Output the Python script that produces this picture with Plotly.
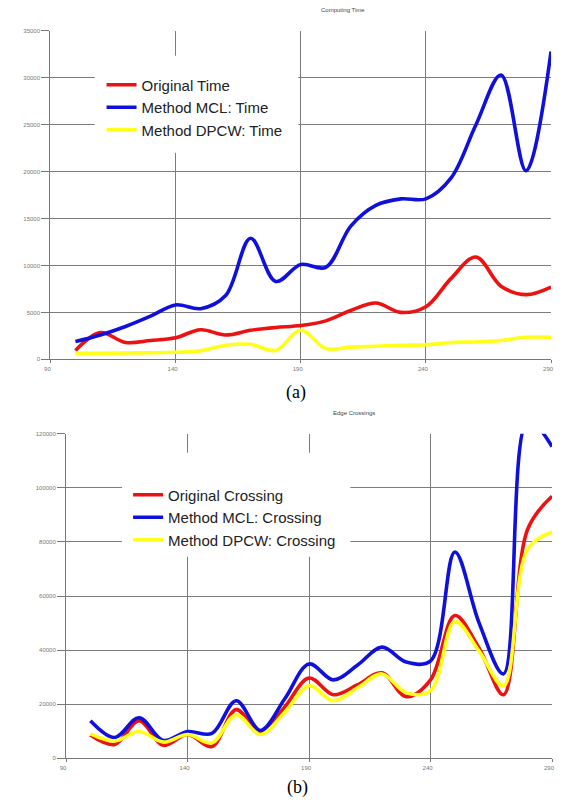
import plotly.graph_objects as go

# ---------------- data ----------------
x_vals = [100, 110, 120, 130, 140, 150, 160, 170, 180, 190,
          200, 210, 220, 230, 240, 250, 260, 270, 280, 290]

time_original = [950, 2850, 1800, 2000, 2300, 3150, 2600, 3100, 3400, 3600,
                 4100, 5200, 6000, 5000, 5600, 8600, 10900, 7800, 6900, 7700]
time_mcl = [1900, 2600, 3500, 4600, 5800, 5400, 6800, 12900, 8300, 10100,
            9800, 14200, 16400, 17100, 17100, 19300, 25000, 30300, 20100, 32800]
time_dpcw = [650, 650, 680, 700, 750, 900, 1500, 1600, 950, 3100,
             1150, 1300, 1400, 1500, 1550, 1800, 1850, 2000, 2350, 2350]

cross_original = [8600, 5100, 13900, 4800, 8800, 4400, 18000, 9500, 19000, 29700,
                  23500, 27200, 31600, 22800, 29000, 52800, 40700, 23500, 84800, 96900]
cross_mcl = [13900, 7700, 15000, 6600, 9900, 9200, 21300, 10300, 22000, 34900,
             29000, 34500, 41100, 35600, 36000, 76300, 50000, 31200, 125000, 115300]
cross_dpcw = [9000, 6400, 9900, 6000, 8800, 5700, 16100, 8800, 17000, 26800,
              21300, 26100, 31200, 24200, 25000, 50600, 39600, 26800, 77400, 83700]

x_ticks = [90, 140, 190, 240, 290]
time_ticks = [0, 5000, 10000, 15000, 20000, 25000, 30000, 35000]
cross_ticks = [0, 20000, 40000, 60000, 80000, 100000, 120000]

names_a = ["Original Time", "Method MCL: Time", "Method DPCW: Time"]
names_b = ["Original Crossing", "Method MCL: Crossing", "Method DPCW: Crossing"]
colors = ["#ee1111", "#1010dd", "#ffff1a"]

# ---------------- figure ----------------
OFF = 8  # page body margin
W, H = 565 - 2 * OFF, 808 - 2 * OFF


def px_x(p):
    return (p - OFF) / W


def px_y(p):
    return 1 - (p - OFF) / H


fig = go.Figure()

for name, ys, c in zip(names_a, [time_original, time_mcl, time_dpcw], colors):
    fig.add_trace(go.Scatter(x=x_vals, y=ys, name=name, mode="lines",
                             line=dict(color=c, width=3.6, shape="spline", smoothing=1.0),
                             xaxis="x", yaxis="y", legend="legend", hoverinfo="skip"))

for name, ys, c in zip(names_b, [cross_original, cross_mcl, cross_dpcw], colors):
    fig.add_trace(go.Scatter(x=x_vals, y=ys, name=name, mode="lines",
                             line=dict(color=c, width=3.6, shape="spline", smoothing=1.0),
                             xaxis="x2", yaxis="y2", legend="legend2", hoverinfo="skip"))

grid_col = "#7c7c7c"
tick_font = dict(family="Liberation Sans, Arial", size=6, color="#777777")

common_x = dict(range=[90, 290], tickvals=x_ticks, showgrid=True, gridcolor=grid_col,
                gridwidth=1.3, showline=True, linecolor="#777777", linewidth=1.3,
                ticks="outside", ticklen=3, tickcolor="#777777", tickfont=tick_font,
                tickformat="d", ticklabelshift=-3,
                zeroline=False, fixedrange=True)
common_y = dict(showgrid=True, gridcolor=grid_col, gridwidth=1.3, showline=True,
                linecolor="#777777", linewidth=1.3, ticks="outside", ticklen=8,
                tickcolor="#777777", tickfont=tick_font, tickformat="d",
                zeroline=False, fixedrange=True)

fig.update_layout(
    width=W, height=H,
    margin=dict(l=0, r=0, t=0, b=0),
    paper_bgcolor="white", plot_bgcolor="white",
    showlegend=True,
    xaxis=dict(domain=[px_x(45), px_x(554)], anchor="y", **common_x),
    yaxis=dict(domain=[px_y(359), px_y(28)], anchor="x", range=[0, 35000],
               tickvals=time_ticks, **common_y),
    xaxis2=dict(domain=[px_x(61), px_x(555)], anchor="y2", **common_x),
    yaxis2=dict(domain=[px_y(761), px_y(434)], anchor="x2", range=[0, 120000],
                tickvals=cross_ticks, **common_y),
    legend=dict(x=px_x(97), y=px_y(66), xanchor="left", yanchor="top",
                bgcolor="rgba(0,0,0,0)", borderwidth=0, tracegroupgap=0,
                font=dict(family="Liberation Sans, Arial", size=15, color="#222222")),
    legend2=dict(x=px_x(124), y=px_y(479), xanchor="left", yanchor="top",
                 bgcolor="rgba(0,0,0,0)", borderwidth=0, tracegroupgap=0,
                 font=dict(family="Liberation Sans, Arial", size=15, color="#222222")),
)

# white legend backgrounds (cover gridlines, below traces)
fig.add_shape(type="rect", xref="x", yref="y", x0=107.7, x1=189, y0=22000, y1=32350,
              fillcolor="white", line=dict(width=0), layer="between")
fig.add_shape(type="rect", xref="x2", yref="y2", x0=113, x1=207, y0=74500, y1=113000,
              fillcolor="white", line=dict(width=0), layer="between")

# titles and captions
ann = dict(xref="paper", yref="paper", showarrow=False, xanchor="center", yanchor="middle")
fig.add_annotation(text="Computing Time", x=px_x(342), y=px_y(7),
                   font=dict(family="Liberation Sans, Arial", size=6, color="#444444"), **ann)
fig.add_annotation(text="Edge Crossings", x=px_x(354), y=px_y(413),
                   font=dict(family="Liberation Sans, Arial", size=6, color="#444444"), **ann)
fig.add_annotation(text="(a)", x=px_x(295), y=px_y(392),
                   font=dict(family="Liberation Serif, Times New Roman", size=18, color="black"), **ann)
fig.add_annotation(text="(b)", x=px_x(296), y=px_y(790),
                   font=dict(family="Liberation Serif, Times New Roman", size=18, color="black"), **ann)

fig.write_html("out.html")
